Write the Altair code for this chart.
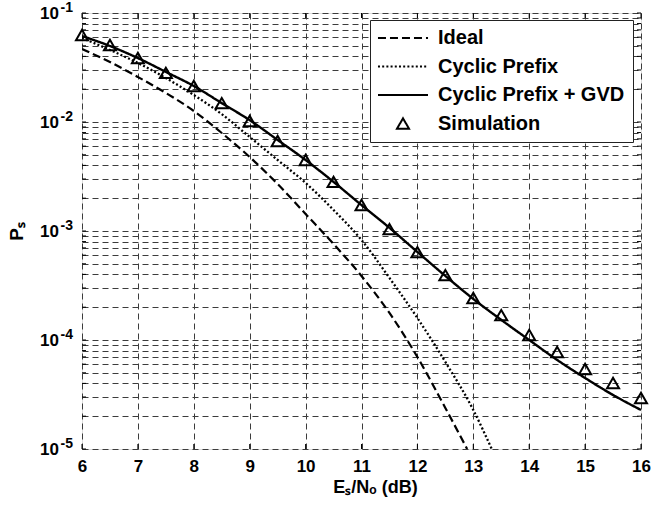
import altair as alt
import pandas as pd

F = "Liberation Sans"

# ---- data ----
x_sim = [6, 6.5, 7, 7.5, 8, 8.5, 9, 9.5, 10, 10.5, 11, 11.5, 12, 12.5, 13, 13.5, 14, 14.5, 15, 15.5, 16]
p_sim = [0.0628, 0.0508, 0.0386, 0.0282, 0.0214, 0.0149, 0.0102, 0.0067, 0.00448, 0.00282, 0.00173,
         0.00104, 0.00064, 0.000394, 0.000243, 0.000169, 0.000111, 7.76e-5, 5.42e-5, 4.03e-5, 2.94e-5]

x_gvd = [6, 6.5, 7, 7.5, 8, 8.5, 9, 9.5, 10, 10.5, 11, 11.5, 12, 12.5, 13, 13.5, 14, 14.5, 15, 15.5, 16]
p_gvd = [0.0615, 0.0498, 0.0386, 0.0288, 0.0214, 0.0149, 0.0104, 0.00684, 0.00448, 0.00282, 0.00173,
         0.00107, 0.000642, 0.000387, 0.000238, 0.000153, 0.0001, 6.56e-5, 4.48e-5, 3.13e-5, 2.28e-5]

x_cp = [6, 6.5, 7, 7.5, 8, 8.5, 9, 9.5, 10, 10.5, 11, 11.5, 12, 12.5, 13, 13.33]
p_cp = [0.0590, 0.0458, 0.0348, 0.0253, 0.0177, 0.0118, 0.00729, 0.00448, 0.00276, 0.00156, 0.000827,
        0.000371, 0.000159, 6.29e-5, 2.28e-5, 1e-5]

x_ideal = [6, 6.5, 7, 7.5, 8, 8.5, 9, 9.5, 10, 10.5, 11, 11.5, 12, 12.5, 12.89]
p_ideal = [0.04674, 0.03553, 0.02587, 0.01845, 0.01262, 0.00793, 0.00477, 0.00270, 0.001432, 0.000760,
           0.000387, 0.000177, 6.98e-5, 2.38e-5, 1e-5]

series_names = ["Ideal", "Cyclic Prefix", "Cyclic Prefix + GVD", "Simulation"]

x_ticks = [6, 7, 8, 9, 10, 11, 12, 13, 14, 15, 16]
y_major = [1e-1, 1e-2, 1e-3, 1e-4, 1e-5]
y_base = ["10", "10", "10", "10", "10"]
y_exp = ["-1", "-2", "-3", "-4", "-5"]
y_grid = [d * f for d in [1e-5, 1e-4, 1e-3, 1e-2] for f in range(1, 10)] + [1e-1]

x_title = "Eₛ/Nₒ (dB)"
y_title = "Pₛ"

# ---- tables ----
lines_df = pd.concat([
    pd.DataFrame({"x": x_ideal, "p": p_ideal, "series": series_names[0]}),
    pd.DataFrame({"x": x_cp, "p": p_cp, "series": series_names[1]}),
    pd.DataFrame({"x": x_gvd, "p": p_gvd, "series": series_names[2]}),
], ignore_index=True)
sim_df = pd.DataFrame({"x": x_sim, "p": p_sim, "series": series_names[3]})
xt_df = pd.DataFrame({"x": x_ticks})
yt_df = pd.DataFrame({"p": y_grid})
lab_df = pd.DataFrame({"p": y_major, "base": y_base, "exp": y_exp})

W, H = 559, 436
xs = alt.Scale(domain=[6, 16], nice=False, zero=False)
ys = alt.Scale(type="log", domain=[1e-5, 1e-1], nice=False)

line_path = "M-4.17,0H4.17"

legend = alt.Legend(
    title=None, orient="none", legendX=288, legendY=7, padding=8,
    strokeColor="#222222", fillColor="white",
    labelFont=F, labelFontSize=20, labelFontWeight="bold", labelColor="black", labelLimit=400,
    symbolSize=144, symbolStrokeWidth=2, symbolStrokeColor="black", symbolFillColor="transparent",
    symbolOffset=15, labelOffset=25, rowPadding=8.5,
)

grid_kw = dict(grid=True, gridDash=[6, 4], gridColor="#3c3c3c", gridWidth=1, ticks=False, domain=False)

x_axis = alt.Axis(values=x_ticks, labelFont=F, labelFontSize=17, labelFontWeight="bold", labelColor="black",
                  labelPadding=9, labelFlush=False, title=x_title, titleFont=F, titleFontSize=18,
                  titleFontWeight="bold", titleColor="black", titleX=293, titleY=43,
                  titleBaseline="alphabetic", **grid_kw)
y_axis = alt.Axis(values=y_grid, labels=False, title=y_title, titleFont=F, titleFontSize=19,
                  titleFontWeight="bold", titleColor="black", titleX=-60, titleY=218, titleAngle=270,
                  titleBaseline="alphabetic", **grid_kw)

X = alt.X("x:Q", scale=xs, axis=x_axis)
Y = alt.Y("p:Q", scale=ys, axis=y_axis)

lines = alt.Chart(lines_df).mark_line(color="black", interpolate="monotone", clip=True).encode(
    x=X, y=Y,
    strokeDash=alt.StrokeDash("series:N", scale=alt.Scale(domain=series_names,
                              range=[[8, 4], [2, 2.2], [1, 0], [1, 0]]), legend=legend),
    strokeWidth=alt.StrokeWidth("series:N", scale=alt.Scale(domain=series_names[:3],
                                range=[2.2, 2.4, 2]), legend=None),
)

points = alt.Chart(sim_df).mark_point(color="black", filled=False, strokeWidth=2, size=144, opacity=1).encode(
    x=X, y=Y,
    shape=alt.Shape("series:N", scale=alt.Scale(domain=series_names,
                    range=[line_path, line_path, line_path, "triangle-up"]), legend=legend),
)

tick_bottom = alt.Chart(xt_df).mark_rule(color="black", strokeWidth=1).encode(
    x=X, y=alt.value(H), y2=alt.value(H - 5))
tick_top = alt.Chart(xt_df).mark_rule(color="black", strokeWidth=1).encode(
    x=X, y=alt.value(0), y2=alt.value(5))
tick_left = alt.Chart(yt_df).mark_rule(color="black", strokeWidth=1).encode(
    y=Y, x=alt.value(0), x2=alt.value(4))
tick_right = alt.Chart(yt_df).mark_rule(color="black", strokeWidth=1).encode(
    y=Y, x=alt.value(W - 4), x2=alt.value(W))

lab_base = alt.Chart(lab_df).mark_text(align="right", baseline="middle", font=F, fontSize=17,
                                       fontWeight="bold", color="black", dy=1).encode(
    y=Y, x=alt.value(-23), text="base:N")
lab_exp = alt.Chart(lab_df).mark_text(align="right", baseline="middle", font=F, fontSize=14,
                                      fontWeight="bold", color="black", dy=-5).encode(
    y=Y, x=alt.value(-9), text="exp:N")

chart = alt.layer(lines, tick_bottom, tick_top, tick_left, tick_right, points, lab_base, lab_exp).properties(
    width=W, height=H,
    autosize=alt.AutoSizeParams(type="none"),
    padding={"left": 82, "top": 13, "right": 10, "bottom": 57},
).configure_view(stroke="#222222", strokeWidth=1).configure(background="white")

chart.save("out.html", embed_options={"renderer": "svg", "actions": False})
